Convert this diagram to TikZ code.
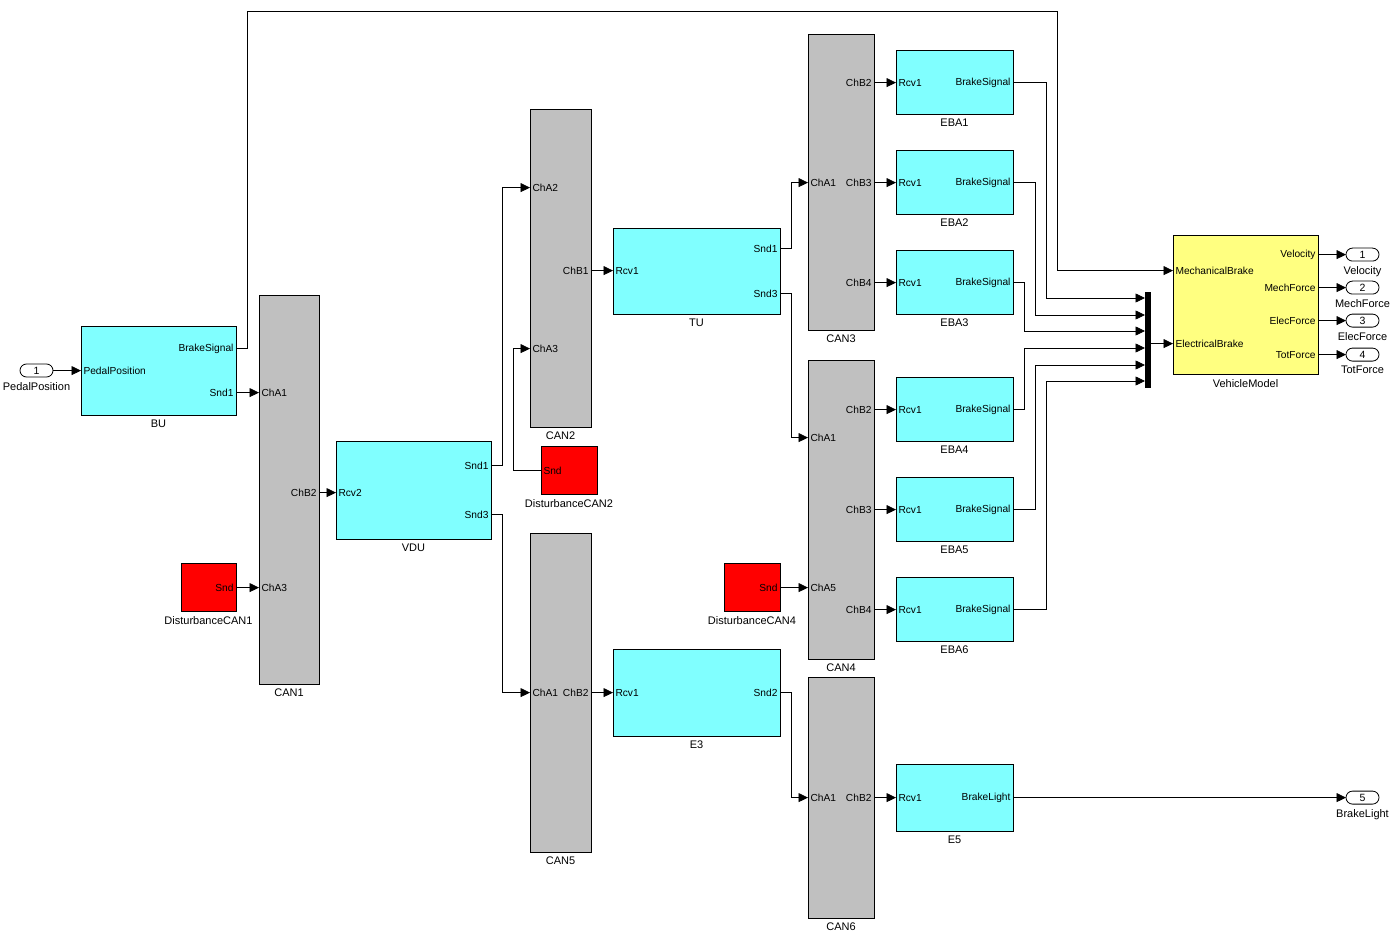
\documentclass[tikz,border=0pt]{standalone}
\usepackage{fontspec}
\setmainfont{Liberation Sans}
\usetikzlibrary{positioning,arrows.meta}
\definecolor{simcyan}{RGB}{128,255,255}
\definecolor{simgray}{RGB}{192,192,192}
\definecolor{simyellow}{RGB}{255,255,128}

\begin{document}
\begin{tikzpicture}[x=1pt, y=-1pt,
  blk/.style={draw, line width=0.8pt, fill=simcyan, inner sep=0pt, outer sep=0pt},
  canbox/.style={blk, fill=simgray, minimum width=61},
  dist/.style={blk, fill=red, minimum width=56, minimum height=48},
  vmbox/.style={blk, fill=simyellow},
  muxbar/.style={fill=black, inner sep=0pt, outer sep=0pt, minimum width=6, minimum height=96},
  io/.style={draw, line width=0.8pt, rounded corners=6.5pt, minimum width=33, minimum height=13, inner sep=0pt, outer sep=0pt, font=\fontsize{10.5}{12}\selectfont},
  blkname/.style={label={[font=\fontsize{11}{13}\selectfont, label distance=1.5pt]below:#1}},
  inl/.style={anchor=west, inner sep=2.5pt, outer sep=0pt, yshift=-0.6pt, font=\fontsize{10.2}{12}\selectfont},
  outl/.style={anchor=east, inner sep=2.5pt, outer sep=0pt, yshift=-0.6pt, font=\fontsize{10.2}{12}\selectfont},
  sig/.style={-{Triangle[length=9.5pt,width=9pt]}, line width=0.7pt}
]
\useasboundingbox (0,0) rectangle (1397,933);

% inport and brake unit
\node[io, blkname=PedalPosition] (in1) at (36.5,370.5) {1};
\node[blk, minimum width=155, minimum height=89, blkname=BU] (bu) at (158.5,370.5) {};
\node[inl] (bu-pp) at (bu.west |- 0,370) {PedalPosition};
\node[outl] (bu-bs) at (bu.east |- 0,348) {BrakeSignal};
\node[outl] (bu-s1) at (bu.east |- 0,392) {Snd1};

% CAN1
\node[canbox, minimum width=60, minimum height=389, blkname=CAN1] (can1) at (289,489.5) {};
\node[inl] (can1-a1) at (can1.west |- 0,392) {ChA1};
\node[inl] (can1-a3) at (can1.west |- 0,587) {ChA3};
\node[outl] (can1-b2) at (can1.east |- 0,492) {ChB2};
\node[dist, minimum width=55, blkname=DisturbanceCAN1] (dist1) at (208.5,587) {};
\node[outl] (d1-snd) at (dist1.east) {Snd};

% VDU
\node[blk, minimum width=155, minimum height=98, blkname=VDU] (vdu) at (413.5,490) {};
\node[inl] (vdu-r2) at (vdu.west |- 0,492) {Rcv2};
\node[outl] (vdu-s1) at (vdu.east |- 0,465) {Snd1};
\node[outl] (vdu-s3) at (vdu.east |- 0,514) {Snd3};

% CAN2 and TU
\node[canbox, minimum height=318, blkname=CAN2] (can2) at (560.5,268) {};
\node[inl] (can2-a2) at (can2.west |- 0,187) {ChA2};
\node[inl] (can2-a3) at (can2.west |- 0,348) {ChA3};
\node[outl] (can2-b1) at (can2.east |- 0,270) {ChB1};
\node[dist, blkname=DisturbanceCAN2] (dist2) at (569,470) {};
\node[inl] (d2-snd) at (dist2.west) {Snd};
\node[blk, minimum width=167, minimum height=86, blkname=TU] (tu) at (696.5,271) {};
\node[inl] (tu-r1) at (tu.west |- 0,270) {Rcv1};
\node[outl] (tu-s1) at (tu.east |- 0,248) {Snd1};
\node[outl] (tu-s3) at (tu.east |- 0,293) {Snd3};

% CAN5 and E3
\node[canbox, minimum height=319, blkname=CAN5] (can5) at (560.5,692.5) {};
\node[inl] (can5-a1) at (can5.west |- 0,692) {ChA1};
\node[outl] (can5-b2) at (can5.east |- 0,692) {ChB2};
\node[blk, minimum width=167, minimum height=87, blkname=E3] (e3) at (696.5,692.5) {};
\node[inl] (e3-r1) at (e3.west |- 0,692) {Rcv1};
\node[outl] (e3-s2) at (e3.east |- 0,692) {Snd2};

% electronic brake actuators
\foreach \i/\yy in {1/82,2/182,3/282,4/409,5/509,6/609}{
  \node[blk, minimum width=117, minimum height=64, blkname=EBA\i] (eba\i) at (954.5,\yy) {};
  \node[inl] (eba\i-r) at (eba\i.west) {Rcv1};
  \node[outl] (eba\i-b) at (eba\i.east) {BrakeSignal};
}

% CAN3, CAN4, CAN6
\node[canbox, minimum width=66, minimum height=296, blkname=CAN3] (can3) at (841,182) {};
\node[inl] (can3-a1) at (can3.west |- 0,182) {ChA1};
\node[outl] (can3-b2) at (can3.east |- eba1) {ChB2};
\node[outl] (can3-b3) at (can3.east |- eba2) {ChB3};
\node[outl] (can3-b4) at (can3.east |- eba3) {ChB4};
\node[canbox, minimum width=66, minimum height=299, blkname=CAN4] (can4) at (841,509.5) {};
\node[inl] (can4-a1) at (can4.west |- 0,437) {ChA1};
\node[inl] (can4-a5) at (can4.west |- 0,587) {ChA5};
\node[outl] (can4-b2) at (can4.east |- eba4) {ChB2};
\node[outl] (can4-b3) at (can4.east |- eba5) {ChB3};
\node[outl] (can4-b4) at (can4.east |- eba6) {ChB4};
\node[dist, blkname=DisturbanceCAN4] (dist4) at (752,587) {};
\node[outl] (d4-snd) at (dist4.east) {Snd};
\node[canbox, minimum width=66, minimum height=241, blkname=CAN6] (can6) at (841,797.5) {};
\node[inl] (can6-a1) at (can6.west |- 0,797) {ChA1};
\node[outl] (can6-b2) at (can6.east |- 0,797) {ChB2};
\node[blk, minimum width=117, minimum height=67, blkname=E5] (e5) at (954.5,797.5) {};
\node[inl] (e5-r1) at (e5.west |- 0,797) {Rcv1};
\node[outl] (e5-bl) at (e5.east |- 0,797) {BrakeLight};

% mux and vehicle model
\node[muxbar] (mux) at (1148,340) {};
\foreach \i/\yy in {1/298,2/315,3/331,4/348,5/365,6/381}
  \coordinate (mux-\i) at (mux.west |- 0,\yy);
\node[vmbox, minimum width=145, minimum height=139, blkname=VehicleModel] (vm) at (1245.5,304.5) {};
\node[inl] (vm-mb) at (vm.west |- 0,270) {MechanicalBrake};
\node[inl] (vm-eb) at (vm.west |- 0,343) {ElectricalBrake};
\node[outl] (vm-vel) at (vm.east |- 0,254) {Velocity};
\node[outl] (vm-mf) at (vm.east |- 0,287) {MechForce};
\node[outl] (vm-ef) at (vm.east |- 0,320) {ElecForce};
\node[outl] (vm-tf) at (vm.east |- 0,354) {TotForce};

% outports
\node[io, blkname=Velocity] (out1) at (1362.5,254.6) {1};
\node[io, blkname=MechForce] (out2) at (1362.5,287.6) {2};
\node[io, blkname=ElecForce] (out3) at (1362.5,320.6) {3};
\node[io, blkname=TotForce] (out4) at (1362.5,354.6) {4};
\node[io, blkname=BrakeLight] (out5) at (1362.5,797.6) {5};
\coordinate (mbtop) at (1057,11);

% signals
\draw[sig] (in1.east |- bu-pp.west) -- (bu-pp.west);
\draw[sig] (bu-s1.east) -- (can1-a1.west);
\draw[sig] (d1-snd.east) -- (can1-a3.west);
\draw[sig] (can1-b2.east) -- (vdu-r2.west);
\draw[sig] (vdu-s1.east) -- ++(11,0) |- (can2-a2.west);
\draw[sig] (vdu-s3.east) -- ++(11,0) |- (can5-a1.west);
\draw[sig] (d2-snd.west) -- ++(-28,0) |- (can2-a3.west);
\draw[sig] (can2-b1.east) -- (tu-r1.west);
\draw[sig] (can5-b2.east) -- (e3-r1.west);
\draw[sig] (tu-s1.east) -- ++(11,0) |- (can3-a1.west);
\draw[sig] (tu-s3.east) -- ++(11,0) |- (can4-a1.west);
\draw[sig] (e3-s2.east) -- ++(11,0) |- (can6-a1.west);
\draw[sig] (d4-snd.east) -- (can4-a5.west);
\draw[sig] (can3-b2.east) -- (eba1-r.west);
\draw[sig] (can3-b3.east) -- (eba2-r.west);
\draw[sig] (can3-b4.east) -- (eba3-r.west);
\draw[sig] (can4-b2.east) -- (eba4-r.west);
\draw[sig] (can4-b3.east) -- (eba5-r.west);
\draw[sig] (can4-b4.east) -- (eba6-r.west);
\draw[sig] (can6-b2.east) -- (e5-r1.west);
\draw[sig] (bu-bs.east) -- ++(11,0) |- (mbtop) |- (vm-mb.west);
\draw[sig] (eba1-b.east) -- ++(33,0) |- (mux-1);
\draw[sig] (eba2-b.east) -- ++(22,0) |- (mux-2);
\draw[sig] (eba3-b.east) -- ++(11,0) |- (mux-3);
\draw[sig] (eba4-b.east) -- ++(11,0) |- (mux-4);
\draw[sig] (eba5-b.east) -- ++(22,0) |- (mux-5);
\draw[sig] (eba6-b.east) -- ++(33,0) |- (mux-6);
\draw[sig] (mux.east |- vm-eb.west) -- (vm-eb.west);
\draw[sig] (vm-vel.east) -- (out1.west);
\draw[sig] (vm-mf.east) -- (out2.west);
\draw[sig] (vm-ef.east) -- (out3.west);
\draw[sig] (vm-tf.east) -- (out4.west);
\draw[sig] (e5-bl.east) -- (out5.west);
\end{tikzpicture}
\end{document}
